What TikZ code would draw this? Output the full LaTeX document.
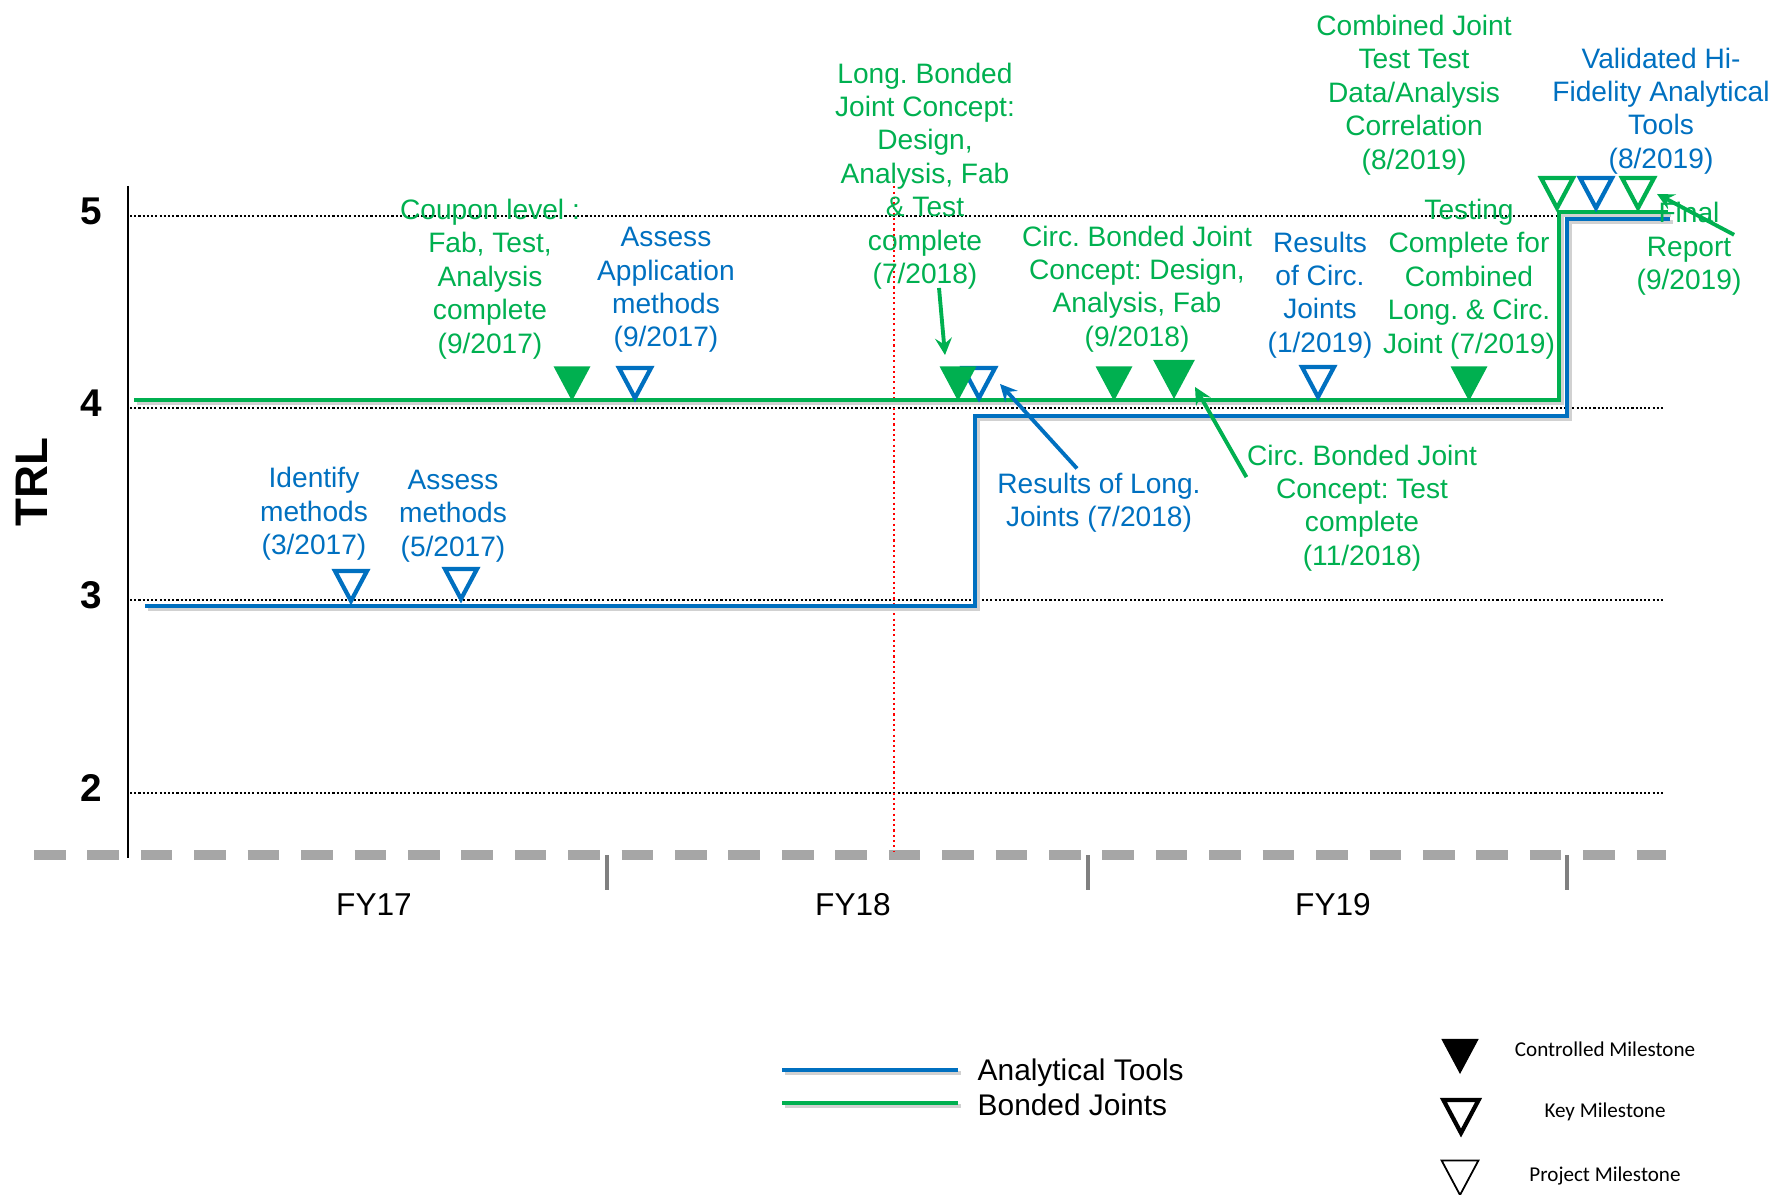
\documentclass[tikz,border=0pt]{standalone}
\usepackage{fontspec}
\setmainfont{Liberation Sans}
\newfontfamily\legfont{Carlito}
\definecolor{ablue}{HTML}{0070C0}
\definecolor{bgreen}{HTML}{00B050}
\definecolor{axgray}{HTML}{A6A6A6}
\frenchspacing
\tikzset{>=stealth}
\tikzset{
  lbl/.style={align=center, inner sep=0pt, font=\fontsize{8}{9.5}\selectfont},
  trl/.style={inner sep=0pt, font=\fontsize{11}{11}\selectfont\bfseries},
  level/.style={line width=0.6pt, dash pattern=on 0.6pt off 0.6pt},
  track/.style={line width=1.3pt, preaction={draw=black!18, line width=1.3pt, transform canvas={shift={(0.25mm,-0.3mm)}}}},
  ctrl/.style={fill=#1},
  key/.style={draw=#1, line width=1.2pt},
  pointer/.style={->, line width=1.1pt},
}
\newcommand\milestone[4][1]{\path[#2] (#3,#4) -- ++(-16*#1,-30*#1) -- ++(32*#1,0) -- cycle;}

\begin{document}
\begin{tikzpicture}[x=0.1mm, y=-0.1mm]
\useasboundingbox (0,0) rectangle (1777,1195);
\foreach \lv/\y in {5/216, 4/408, 3/600, 2/793}{
  \draw[level] (130,\y) -- (1664,\y);
  \node[trl] (trl\lv) at (91,\y-5) {\lv};
}
\draw[line width=0.7pt] (128,186) -- (128,858);
\node[rotate=90, inner sep=0pt, font=\fontsize{13}{13}\selectfont\bfseries] (trlaxis) at (32,482) {TRL};
\draw[axgray, line width=2.6pt, dash pattern=on 9pt off 6.2pt] (34,855) -- (1666,855);
\foreach \x in {607,1088,1567} \draw[black!50, line width=1pt] (\x,855) -- (\x,890);
\node[font=\fontsize{9}{9}\selectfont] (fy17) at (374,905) {FY17};
\node[font=\fontsize{9}{9}\selectfont] (fy18) at (853,905) {FY18};
\node[font=\fontsize{9}{9}\selectfont] (fy19) at (1333,905) {FY19};
\draw[red, line width=0.6pt, dash pattern=on 0.6pt off 0.9pt] (894,181) -- (894,852);

\draw[ablue, track] (145,606) -- (975,606) -- (975,416) -- (1567,416) -- (1567,219) -- (1670,219);
\draw[bgreen, track] (134,400) -- (1559,400) -- (1559,212) -- (1668,212);

\milestone{key=ablue}{351}{601}
\milestone{key=ablue}{461}{599}
\milestone{key=ablue}{635}{398}
\milestone{key=ablue}{979}{398}
\milestone{key=ablue}{1318}{397}
\milestone[1.15]{ctrl=bgreen}{572}{401}
\milestone[1.15]{ctrl=bgreen}{958}{401}
\milestone[1.15]{ctrl=bgreen}{1114}{401}
\milestone[1.3]{ctrl=bgreen}{1174}{399}
\milestone[1.15]{ctrl=bgreen}{1469}{401}
\milestone{key=bgreen}{1557}{208}
\milestone{key=ablue}{1596}{208}
\milestone{key=bgreen}{1638}{208}

\node[lbl, bgreen] (lblCoupon) at (490,279) {Coupon level :\\Fab, Test,\\Analysis\\complete\\(9/2017)};
\node[lbl, ablue] (lblAssessApp) at (666,290) {Assess\\Application\\methods\\(9/2017)};
\node[lbl, bgreen] (lblLong) at (925,176) {Long. Bonded\\Joint Concept:\\Design,\\Analysis, Fab\\\& Test\\complete\\(7/2018)};
\node[lbl, bgreen] (lblCircDes) at (1137,289) {Circ. Bonded Joint\\Concept: Design,\\Analysis, Fab\\(9/2018)};
\node[lbl, ablue] (lblResCirc) at (1320,295) {Results\\of Circ.\\Joints\\(1/2019)};
\node[lbl, bgreen] (lblTesting) at (1469,279) {Testing\\Complete for\\Combined\\Long. \& Circ.\\Joint (7/2019)};
\node[lbl, bgreen] (lblCombined) at (1414,95) {Combined Joint\\Test Test\\Data/Analysis\\Correlation\\(8/2019)};
\node[lbl, ablue] (lblValid) at (1661,111) {Validated Hi-\\Fidelity Analytical\\Tools\\(8/2019)};
\node[lbl, bgreen] (lblFinal) at (1689,249) {Final\\Report\\(9/2019)};
\node[lbl, ablue] (lblIdent) at (314,514) {Identify\\methods\\(3/2017)};
\node[lbl, ablue] (lblAssess) at (453,516) {Assess\\methods\\(5/2017)};
\node[lbl, ablue] (lblResLong) at (1099,503) {Results of Long.\\Joints (7/2018)};
\node[lbl, bgreen] (lblCircTest) at (1362,508) {Circ. Bonded Joint\\Concept: Test\\complete\\(11/2018)};

\coordinate (tipLong) at (945,355);
\coordinate (tipResLong) at (1000,384);
\coordinate (tipCircTest) at (1195,387);
\coordinate (tipFinal) at (1657,194);
\draw[pointer, bgreen] ([xshift=1.4mm,yshift=0.2mm]lblLong.south) -- (tipLong);
\draw[pointer, ablue] ([xshift=-2.2mm,yshift=0.4mm]lblResLong.north) -- (tipResLong);
\draw[pointer, bgreen] ([yshift=-3.3mm]lblCircTest.north west) -- (tipCircTest);
\draw[pointer, bgreen] ([xshift=-0.8mm,yshift=-3.3mm]lblFinal.north east) -- (tipFinal);

\draw[ablue, track] (782,1070) -- (958,1070);
\draw[bgreen, track] (782,1103) -- (958,1103);
\node[anchor=west, inner sep=0pt, font=\fontsize{8.5}{8.5}\selectfont] (legTools) at (977,1073) {Analytical Tools};
\node[anchor=west, inner sep=0pt, font=\fontsize{8.5}{8.5}\selectfont] (legJoints) at (977,1105) {Bonded Joints};
\milestone[1.17]{fill=black}{1460}{1074}
\milestone[1.1]{draw=black, line width=1.2pt}{1461}{1133}
\milestone[1.15]{draw=black, line width=0.5pt}{1460}{1195}
\node[font=\legfont\fontsize{6}{6}\selectfont] (legCtrl) at (1605,1049) {Controlled Milestone};
\node[font=\legfont\fontsize{6}{6}\selectfont] (legKey) at (1605,1112) {Key Milestone};
\node[font=\legfont\fontsize{6}{6}\selectfont] (legProj) at (1605,1176) {Project Milestone};
\end{tikzpicture}
\end{document}
